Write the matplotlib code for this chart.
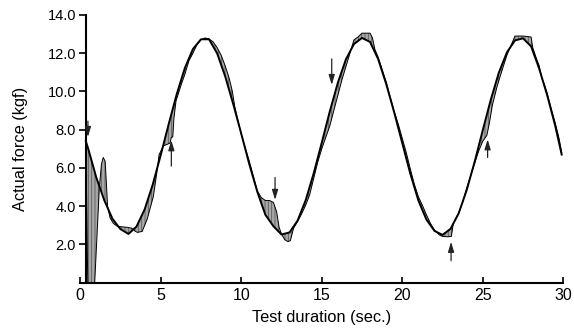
import matplotlib
matplotlib.use("Agg")
import matplotlib.pyplot as plt
import numpy as np

# ---------------- data ----------------
target_t = [0.35, 0.5, 1.0, 1.5, 2.0, 2.5, 3.0, 3.5, 4.0, 4.5, 5.0, 5.5, 6.0, 6.5, 7.0, 7.5,
            8.0, 8.5, 9.0, 9.5, 10.0, 10.5, 11.0, 11.5, 12.0, 12.5, 13.0, 13.5, 14.0, 14.5,
            15.0, 15.5, 16.0, 16.5, 17.0, 17.5, 18.0, 18.5, 19.0, 19.5, 20.0, 20.5, 21.0,
            21.5, 22.0, 22.5, 23.0, 23.5, 24.0, 24.5, 25.0, 25.5, 26.0, 26.5, 27.0, 27.5,
            28.0, 28.5, 29.0, 29.5, 29.9]
target_f = [7.40, 7.00, 5.50, 4.30, 3.35, 2.80, 2.55, 2.94, 3.83, 5.12, 6.67, 8.31, 9.88,
            11.23, 12.22, 12.73, 12.73, 12.00, 10.80, 9.35, 7.80, 6.20, 4.75, 3.55, 2.95,
            2.52, 2.63, 3.25, 4.31, 5.72, 7.32, 8.96, 10.46, 11.68, 12.48, 12.80, 12.59,
            11.70, 10.40, 8.90, 7.30, 5.70, 4.30, 3.30, 2.71, 2.50, 2.82, 3.62, 4.84, 6.34,
            7.98, 9.58, 10.99, 12.05, 12.67, 12.78, 12.36, 11.20, 9.80, 8.20, 6.70]

actual_t = [0.35, 0.42, 0.47, 0.90, 1.19, 1.32, 1.43, 1.55, 1.62, 1.70, 1.85, 2.06, 2.30,
            2.60, 2.90, 3.20, 3.40, 3.55, 3.85, 4.17, 4.54, 4.75, 4.90, 5.16, 5.58, 5.66,
            5.75, 5.82, 5.95, 6.25, 6.50, 6.75, 7.00, 7.25, 7.50, 7.75, 8.00, 8.25, 8.50,
            8.75, 9.00, 9.25, 9.45, 9.60, 10.0, 10.5, 11.0, 11.25, 11.5, 11.75, 12.0, 12.2,
            12.35, 12.5, 12.7, 12.9, 13.05, 13.25, 13.5, 13.75, 14.0, 14.25, 14.5, 14.75,
            15.0, 15.25, 15.5, 15.75, 16.0, 16.25, 16.5, 16.75, 17.0, 17.25, 17.5, 17.75,
            18.0, 18.15, 18.3, 18.5, 19.0, 19.5, 19.75, 20.0, 20.25, 20.5, 20.75, 21.0,
            21.25, 21.5, 21.75, 22.0, 22.3, 22.5, 22.8, 23.05, 23.17, 23.5, 23.75, 24.0,
            24.25, 24.5, 24.75, 25.0, 25.25, 25.4, 25.6, 25.9, 26.25, 26.5, 26.75, 27.0,
            27.5, 28.0, 28.1, 28.3, 28.5, 28.67, 28.85, 29.0, 29.25, 29.5, 29.75, 29.9]
actual_f = [7.40, 3.00, 0.00, 0.00, 5.00, 6.20, 6.55, 6.35, 5.30, 4.00, 3.40, 3.10, 2.95,
            2.92, 2.90, 2.85, 2.70, 2.63, 2.68, 3.35, 4.50, 5.70, 6.70, 7.15, 7.30, 7.60,
            7.62, 8.60, 9.50, 10.30, 10.90, 11.60, 12.00, 12.45, 12.70, 12.80, 12.75, 12.60,
            12.30, 11.90, 11.35, 10.70, 10.00, 9.20, 7.75, 6.35, 4.80, 4.45, 4.30, 4.30,
            4.20, 3.70, 2.90, 2.55, 2.25, 2.15, 2.20, 2.85, 3.20, 3.60, 4.05, 4.60, 5.45,
            6.30, 7.00, 7.60, 8.20, 9.00, 9.80, 10.60, 11.30, 12.00, 12.70, 12.85, 13.05,
            13.05, 13.05, 12.80, 12.20, 11.80, 10.50, 8.95, 8.30, 7.55, 6.80, 5.95, 5.15,
            4.50, 4.05, 3.55, 3.10, 2.75, 2.50, 2.42, 2.40, 2.42, 3.10, 3.65, 4.20, 4.95,
            5.60, 6.25, 6.90, 7.40, 7.70, 8.30, 9.30, 10.30, 11.25, 11.90, 12.40, 12.90,
            12.90, 12.85, 12.30, 11.80, 11.35, 10.70, 10.30, 9.90, 9.10, 8.35, 7.50, 6.80]

# arrows: time, tail value, head value
arrow_t = [0.48, 5.66, 12.1, 15.62, 23.03, 25.3]
arrow_from = [8.45, 6.10, 5.50, 11.70, 1.15, 6.55]
arrow_to = [7.62, 7.45, 4.33, 10.34, 2.14, 7.50]

x_ticks = [0, 5, 10, 15, 20, 25, 30]
y_ticks = [2, 4, 6, 8, 10, 12, 14]

# ---------------- plot ----------------
plt.rcParams['font.family'] = ['Liberation Sans', 'DejaVu Sans']
plt.rcParams['hatch.linewidth'] = 0.6

fig = plt.figure(figsize=(5.74, 3.28), dpi=100)
ax = fig.add_axes([80.2 / 574, 1 - 282.7 / 328, (563.3 - 80.2) / 574, (282.7 - 15) / 328])

poly_x = np.concatenate([target_t, actual_t[::-1]])
poly_y = np.concatenate([target_f, actual_f[::-1]])
ax.fill(poly_x, poly_y, facecolor='#a8a8a8', edgecolor='#5a5a5a', hatch='|||||',
        linewidth=0, zorder=1)

ax.plot(actual_t, actual_f, color='black', lw=0.7, zorder=2)
ax.plot(target_t, target_f, color='black', lw=1.4, zorder=3)

for t, a, b in zip(arrow_t, arrow_from, arrow_to):
    ax.annotate('', xy=(t, b), xytext=(t, a),
                arrowprops=dict(arrowstyle='-|>,head_length=0.6,head_width=0.18',
                                color='#222222', lw=0.9, shrinkA=0, shrinkB=0,
                                mutation_scale=10), zorder=4)

ax.set_xlim(0, 30)
ax.set_ylim(0, 14)
ax.spines['top'].set_visible(False)
ax.spines['right'].set_visible(False)
ax.spines['left'].set_position(('data', 0.35))
ax.spines['left'].set_linewidth(1.5)
ax.spines['bottom'].set_linewidth(1.5)

ax.set_xticks(x_ticks)
ax.set_xticklabels([str(v) for v in x_ticks], fontsize=11.5)
ax.set_yticks(y_ticks)
ax.set_yticklabels([f"{v:.1f}" for v in y_ticks], fontsize=10.5)
ax.tick_params(axis='x', direction='in', length=4, width=1.2, pad=4)
ax.tick_params(axis='y', direction='out', length=5, width=1.2, pad=2)

ax.set_xlabel('Test duration (sec.)', fontsize=11.8, labelpad=5)
ax.set_ylabel('Actual force (kgf)', fontsize=11.8, labelpad=14)

fig.savefig('out.png', dpi=100)
